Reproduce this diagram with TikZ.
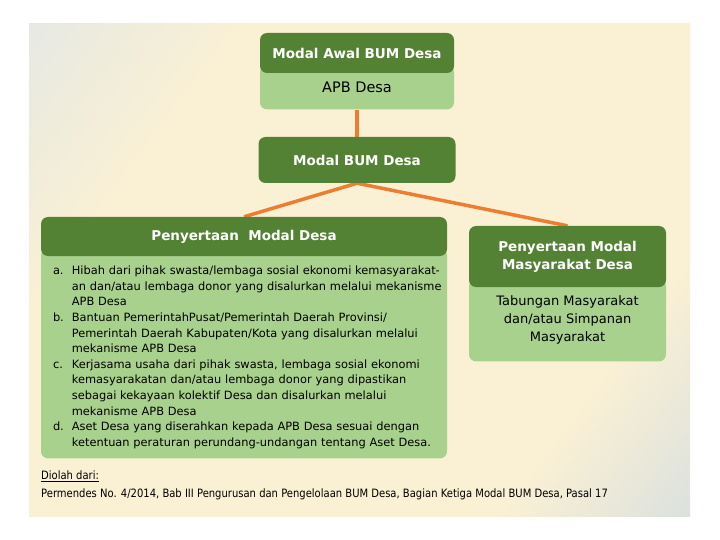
\documentclass[tikz,border=0pt]{standalone}
\usepackage{fontspec}
\setmainfont{DejaVu Sans}
\newfontfamily\sumberfont[FakeStretch=0.87]{DejaVu Sans}
\usetikzlibrary{positioning,backgrounds}

\definecolor{hijautua}{HTML}{548235}
\definecolor{hijaumuda}{HTML}{A9D18E}
\definecolor{oranye}{HTML}{ED7D31}
\definecolor{krem}{HTML}{FAF0D4}
\definecolor{birukiri}{HTML}{D3E2F2}
\definecolor{birukanan}{HTML}{B8D0EA}
\pgfdeclarehorizontalshading{latar}{100bp}{color(0bp)=(birukiri); color(30bp)=(krem); color(72bp)=(krem); color(100bp)=(birukanan)}

\tikzset{
  kepala/.style={rectangle, rounded corners=7pt, fill=hijautua, text=white,
    font=\fontsize{13.5}{18}\selectfont\bfseries, align=center, inner sep=0pt},
  isi/.style={rectangle, rounded corners=7pt, fill=hijaumuda, text=black, inner sep=0pt},
  penghubung/.style={draw=oranye, line width=3.5pt},
  sumber/.style={anchor=west, inner sep=0pt, font=\sumberfont\fontsize{11.5}{13}\selectfont}
}

\begin{document}
\begin{tikzpicture}[x=1pt,y=-1pt]
  \useasboundingbox (0,0) rectangle (720,540);
  % kepala kotak
  \node[kepala, minimum width=194pt, minimum height=40pt] (awal) at (357,53) {Modal Awal BUM Desa};
  \node[kepala, minimum width=197pt, minimum height=46pt] (modal) at (357,160) {Modal BUM Desa};
  \node[kepala, minimum width=406pt, minimum height=39pt] (desa) at (244,236.5) {Penyertaan\ \ Modal Desa};
  \node[kepala, minimum width=197pt, minimum height=61pt] (masy) at (567.5,256.5) {Penyertaan Modal\\Masyarakat Desa};
  \begin{scope}[on background layer]
    \shade[shading=latar, shading angle=-37] (29,24) rectangle (690,516);
    % isi kotak
    \node[isi, minimum width=194pt, minimum height=44pt, below=-8pt of awal,
      font=\fontsize{14.5}{18}\selectfont] (awalisi) {APB Desa};
    \node[isi, minimum width=406pt, minimum height=210pt, below=-8pt of desa,
      text width=382pt, align=left, font=\fontsize{11.4}{15.6}\selectfont] (desaisi) {%
      \begin{tabular}{@{}l@{\hspace{8pt}}l@{}}
        a. & Hibah dari pihak swasta/lembaga sosial ekonomi kemasyarakat-\rule{0pt}{19pt}\\
           & an dan/atau lembaga donor yang disalurkan melalui mekanisme\\
           & APB Desa\\
        b. & Bantuan PemerintahPusat/Pemerintah Daerah Provinsi/\\
           & Pemerintah Daerah Kabupaten/Kota yang disalurkan melalui\\
           & mekanisme APB Desa\\
        c. & Kerjasama usaha dari pihak swasta, lembaga sosial ekonomi\\
           & kemasyarakatan dan/atau lembaga donor yang dipastikan\\
           & sebagai kekayaan kolektif Desa dan disalurkan melalui\\
           & mekanisme APB Desa\\
        d. & Aset Desa yang diserahkan kepada APB Desa sesuai dengan\\
           & ketentuan peraturan perundang-undangan tentang Aset Desa.
      \end{tabular}};
    \node[isi, minimum width=197pt, minimum height=82pt, below=-8pt of masy,
      align=center, font=\fontsize{13}{18}\selectfont] (masyisi) {Tabungan Masyarakat\\dan/atau Simpanan\\Masyarakat};
    % garis
    \draw[penghubung] (awalisi.south) -- (modal.north);
    \draw[penghubung] (modal.south) -- (desa.north);
    \draw[penghubung] (modal.south) -- (masy.north);
  \end{scope}
  % sumber
  \node[sumber] (diolah) at (41,476) {\underline{Diolah dari:}};
  \node[sumber] (permendes) at (41,494) {Permendes No. 4/2014, Bab III Pengurusan dan Pengelolaan BUM Desa, Bagian Ketiga Modal BUM Desa, Pasal 17};
\end{tikzpicture}
\end{document}
